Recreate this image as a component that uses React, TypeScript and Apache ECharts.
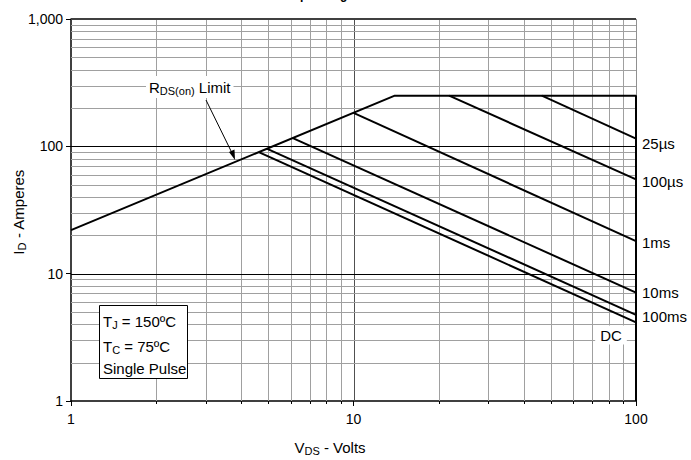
import React, { useEffect, useRef } from "react";
import * as echarts from "echarts";

const FONT = "'Liberation Sans', Arial, Helvetica, sans-serif";

// Axis ticks
const xTicks = [1, 10, 100];
const yTicks = [1, 10, 100, 1000];
const xMinorGrid = [2, 3, 4, 5, 6, 7, 8, 9, 20, 30, 40, 50, 60, 70, 80, 90];
const yMinorGrid = [2, 3, 4, 5, 6, 7, 8, 9, 20, 30, 40, 50, 60, 70, 80, 90, 200, 300, 400, 500, 600, 700, 800, 900];

// Curves [V_DS, I_D]
const boundary = [[1, 22], [14, 250], [100, 250], [100, 1]];
const t25us = [[46.4, 250], [100, 115]];
const t100us = [[21.8, 250], [100, 55]];
const t1ms = [[10, 183], [100, 18]];
const t10ms = [[6.1, 116], [100, 7.1]];
const t100ms = [[4.93, 96], [100, 4.75]];
const tDC = [[4.62, 90], [100, 4.15]];

const curveLabels = ["25µs", "100µs", "1ms", "10ms", "100ms"];

export default function App() {
  const ref = useRef<HTMLDivElement>(null);
  useEffect(() => {
    if (!ref.current) return;
    const chart = echarts.init(ref.current, null, { renderer: "svg" });

    const lineSeries = (name: string, data: number[][]) => ({
      name,
      type: "line",
      data,
      symbol: "none",
      clip: false,
      silent: true,
      z: 5,
      lineStyle: { color: "#000", width: 2 },
    });

    const vGrid = (values: number[], color: string, width: number, tick: number) => ({
      type: "custom",
      silent: true,
      z: 1,
      data: values.map((v) => [v, 1]),
      encode: { x: 0, y: 1 },
      renderItem: (params: any, api: any) => {
        const v = api.value(0);
        const top = api.coord([v, 1000]);
        const bot = api.coord([v, 1]);
        const x = Math.round(top[0]) + (width % 2 ? 0.5 : 0);
        return {
          type: "group",
          children: [
            { type: "line", shape: { x1: x, y1: top[1], x2: x, y2: bot[1] }, style: { stroke: color, lineWidth: width } },
            { type: "line", shape: { x1: x, y1: bot[1], x2: x, y2: bot[1] + tick }, style: { stroke: "#000", lineWidth: 1 } },
          ],
        };
      },
    });

    const hGrid = (values: number[], color: string, width: number) => ({
      type: "custom",
      silent: true,
      z: 1,
      data: values.map((v) => [1, v]),
      encode: { x: 0, y: 1 },
      renderItem: (params: any, api: any) => {
        const v = api.value(1);
        const l = api.coord([1, v]);
        const r = api.coord([100, v]);
        const y = Math.round(l[1]) + (width % 2 ? 0.5 : 0);
        return { type: "line", shape: { x1: l[0], y1: y, x2: r[0], y2: y }, style: { stroke: color, lineWidth: width } };
      },
    });

    const rich = {
      m: { fontSize: 15, fontFamily: FONT, color: "#000" },
      s: { fontSize: 11, fontFamily: FONT, color: "#000", padding: [7, 0, 0, 0] },
    };
    const txt = (x: number, y: number, text: string, align = "left", extra: any = {}) => ({
      type: "text",
      x,
      y,
      z: 20,
      style: { text, align, verticalAlign: "middle", font: `15px ${FONT}`, fill: "#000", rich, ...extra },
    });

    const rightLabelY = [143, 181, 242, 292, 316];

    chart.setOption({
      animation: false,
      grid: { left: 71, right: 55, top: 19, bottom: 59 },
      xAxis: {
        type: "log",
        logBase: 10,
        min: xTicks[0],
        max: xTicks[xTicks.length - 1],
        axisLine: { show: true, lineStyle: { color: "#000", width: 1.5 } },
        axisTick: { show: true, length: 5, lineStyle: { color: "#000" } },
        axisLabel: { color: "#000", fontSize: 14, fontFamily: FONT, margin: 11 },
        splitLine: { show: false },
        minorTick: { show: false },
      },
      yAxis: {
        type: "log",
        logBase: 10,
        min: yTicks[0],
        max: yTicks[yTicks.length - 1],
        axisLine: { show: true, lineStyle: { color: "#000", width: 1.5 } },
        axisTick: { show: true, length: 5, lineStyle: { color: "#000" } },
        axisLabel: {
          color: "#000",
          fontSize: 14,
          fontFamily: FONT,
          margin: 8,
          formatter: (v: number) => Math.round(v).toLocaleString("en-US"),
        },
        splitLine: { show: false },
      },
      series: [
        vGrid(xMinorGrid, "#a0a0a0", 1, 3),
        vGrid([10], "#505050", 1, 0),
        vGrid([100], "#909090", 1, 0),
        hGrid(yMinorGrid, "#a0a0a0", 1),
        hGrid([10, 100], "#000", 1),
        hGrid([1000], "#404040", 2),
        lineSeries("boundary", boundary),
        lineSeries("25µs", t25us),
        lineSeries("100µs", t100us),
        lineSeries("1ms", t1ms),
        lineSeries("10ms", t10ms),
        lineSeries("100ms", t100ms),
        lineSeries("DC", tDC),
      ],
      graphic: [
        {
          type: "text",
          x: 262,
          y: 1,
          style: { text: "Safe Operating Area", align: "left", verticalAlign: "bottom", font: `bold 12px ${FONT}`, fill: "#000" },
        },
        ...curveLabels.map((t, i) => txt(642, rightLabelY[i], t)),
        txt(611, 335, "DC", "center", { backgroundColor: "#fff", padding: [2, 5, 2, 5] }),
        txt(146, 87, "{m|R}{s|DS(on)}{m| Limit}", "left", { backgroundColor: "#fff", padding: [2, 3, 2, 3] }),
        {
          type: "line",
          z: 20,
          shape: { x1: 206, y1: 100, x2: 232, y2: 153 },
          style: { stroke: "#000", lineWidth: 1 },
        },
        {
          type: "polygon",
          z: 20,
          shape: { points: [[235, 160], [229, 152], [234.5, 149.5]] },
          style: { fill: "#000" },
        },
        {
          type: "rect",
          z: 15,
          shape: { x: 99.5, y: 305.5, width: 88, height: 73 },
          style: { fill: "#fff", stroke: "#000", lineWidth: 1 },
        },
        txt(103, 321, "{m|T}{s|J}{m| = 150ºC}"),
        txt(103, 346, "{m|T}{s|C}{m| = 75ºC}"),
        txt(103, 368, "Single Pulse"),
        txt(330, 447, "{m|V}{s|DS}{m| - Volts}", "center"),
        { ...txt(18, 212, "{m|I}{s|D}{m| - Amperes}", "center"), rotation: Math.PI / 2 },
      ],
    });
    return () => chart.dispose();
  }, []);
  return <div ref={ref} style={{ position: "fixed", left: 0, top: 0, width: 691, height: 460, background: "#fff" }} />;
}
